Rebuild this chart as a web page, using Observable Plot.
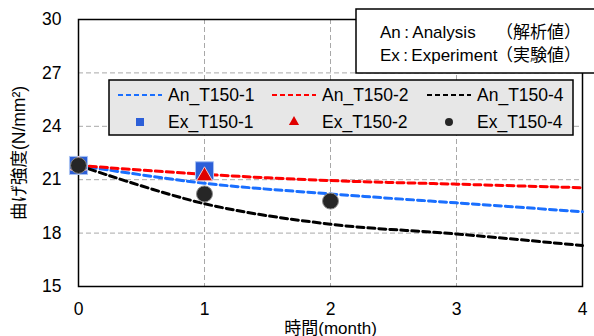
<!DOCTYPE html>
<html>
<head>
<meta charset="utf-8">
<script src="https://cdn.jsdelivr.net/npm/d3@7"></script>
<script src="https://cdn.jsdelivr.net/npm/@observablehq/plot@0.6"></script>
<style>
  html, body { margin: 0; padding: 0; background: #fff; }
  #wrap { position: relative; width: 594px; height: 336px; font-family: "Liberation Sans", Arial, "Noto Sans CJK JP", sans-serif; }
  #overlay { position: absolute; left: 0; top: 0; pointer-events: none; }
</style>
</head>
<body>
<div id="wrap"></div>
<script>
// ---- data ----
const months = [0, 1, 2, 3, 4];
const anT150_1 = [21.8, 20.8, 20.2, 19.7, 19.2];
const anT150_2 = [21.8, 21.3, 20.95, 20.75, 20.55];
const anT150_4 = [21.8, 19.65, 18.5, 17.95, 17.3];

const exMonths1 = [0, 1];
const exT150_1 = [21.8, 21.5];
const exMonths2 = [0, 1];
const exT150_2 = [21.8, 21.2];
const exMonths4 = [0, 1, 2];
const exT150_4 = [21.8, 20.2, 19.8];

const yTicks = [15, 18, 21, 24, 27, 30];
const xTicks = [0, 1, 2, 3, 4];

const anNames = ["An_T150-1", "An_T150-2", "An_T150-4"];
const exNames = ["Ex_T150-1", "Ex_T150-2", "Ex_T150-4"];
const colors = ["#1a6fff", "#ff0000", "#000000"];
const noteLines = [["An\u2009:\u2009Analysis", "（解析値）"], ["Ex\u2009:\u2009Experiment", "（実験値）"]];

// ---- tables ----
const anSeries = [anT150_1, anT150_2, anT150_4];
const anData = anSeries.map((vals, s) => months.map((m, i) => ({month: m, value: vals[i], series: anNames[s]})));
const ex1 = exMonths1.map((m, i) => ({month: m, value: exT150_1[i]}));
const ex2 = exMonths2.map((m, i) => ({month: m, value: exT150_2[i]}));
const ex4 = exMonths4.map((m, i) => ({month: m, value: exT150_4[i]}));

const W = 594, H = 336;
const fontFamily = '"Liberation Sans", Arial, "Noto Sans CJK JP", sans-serif';

const chart = Plot.plot({
  width: W,
  height: H,
  marginLeft: 78,
  marginRight: 12,
  marginTop: 19,
  marginBottom: 50,
  style: {fontFamily, fontSize: "17px", color: "#000", background: "#fff"},
  x: {domain: [0, 4]},
  y: {domain: [15, 30]},
  marks: [
    Plot.gridY(yTicks.filter(t => t > 15 && t < 30), {stroke: "#a8a8a8", strokeOpacity: 1, strokeDasharray: "5,3", strokeWidth: 1}),
    Plot.gridX(xTicks.filter(t => t > 0 && t < 4), {stroke: "#a8a8a8", strokeOpacity: 1, strokeDasharray: "5,3", strokeWidth: 1}),
    Plot.frame({stroke: "#000", strokeWidth: 1.5}),
    ...anData.map((d, s) => Plot.line(d, {x: "month", y: "value", stroke: colors[s], strokeWidth: 3, strokeDasharray: "7,4", curve: "catmull-rom"})),
    Plot.dot(ex1, {x: "month", y: "value", symbol: "square", r: 10.2, fill: "#2c5fd8", stroke: "#a9c2f2", strokeWidth: 1}),
    Plot.dot(ex2, {x: "month", y: "value", symbol: "triangle", r: 6, fill: "#e00000", stroke: "#f3c9c9", strokeWidth: 1}),
    Plot.dot(ex4, {x: "month", y: "value", symbol: "circle", r: 8, fill: "#262626", stroke: "#8c8c8c", strokeWidth: 1}),
    Plot.axisY({ticks: yTicks, tickFormat: d => String(d), tickSize: 0, tickPadding: 17, label: "曲げ強度(N/mm²)", labelArrow: "none", labelAnchor: "center", labelOffset: 66, fontSize: 17.5}),
    Plot.axisX({ticks: xTicks, tickFormat: d => String(d), tickSize: 0, tickPadding: 16, label: null, fontSize: 17.5}),
    Plot.axisX({ticks: [], tickSize: 0, label: "時間(month)", labelArrow: "none", labelAnchor: "center", labelOffset: 47, fontSize: 17})
  ]
});

const wrap = document.getElementById("wrap");
wrap.appendChild(chart);

// ---- legends (overlay) ----
const svg = d3.select(wrap).append("svg")
  .attr("id", "overlay").attr("width", W).attr("height", H)
  .style("font-family", fontFamily).style("font-size", "17px");

// Note box (top right)
const nb = {x: 356, y: 9, w: 240, h: 64};
svg.append("rect").attr("x", nb.x).attr("y", nb.y).attr("width", nb.w).attr("height", nb.h)
  .attr("fill", "#fff").attr("stroke", "#000").attr("stroke-width", 1.5);
noteLines.forEach((pair, i) => {
  const y = nb.y + 23 + i * 23;
  svg.append("text").attr("x", nb.x + 24).attr("y", y).attr("dy", "0.35em").text(pair[0]);
  svg.append("text").attr("x", 581).attr("y", y).attr("dy", "0.35em").attr("text-anchor", "end").text(pair[1]);
});

// Series legend box
const lb = {x: 109, y: 80, w: 464, h: 55};
svg.append("rect").attr("x", lb.x).attr("y", lb.y).attr("width", lb.w).attr("height", lb.h)
  .attr("fill", "#e7e7e7").attr("stroke", "#000").attr("stroke-width", 1.5);
const colX = [0, 154, 309];
anNames.forEach((name, s) => {
  const x0 = lb.x + 9 + colX[s], y = lb.y + 15;
  svg.append("line").attr("x1", x0).attr("x2", x0 + 44).attr("y1", y).attr("y2", y)
    .attr("stroke", colors[s]).attr("stroke-width", 2).attr("stroke-dasharray", "5,3");
  svg.append("text").attr("x", x0 + 50).attr("y", y).attr("dy", "0.35em").style("font-size", "17.5px").text(name);
});
const sym = [d3.symbolSquare, d3.symbolTriangle, d3.symbolCircle];
const symFill = ["#2c5fd8", "#e00000", "#262626"];
const symSize = [64, 45, 50];
exNames.forEach((name, s) => {
  const cx = lb.x + 31 + colX[s], y = lb.y + 42;
  svg.append("path").attr("d", d3.symbol(sym[s], symSize[s])()).attr("transform", `translate(${cx},${y})`)
    .attr("fill", symFill[s]);
  svg.append("text").attr("x", lb.x + 9 + colX[s] + 50).attr("y", y).attr("dy", "0.35em").style("font-size", "17.5px").text(name);
});
</script>
</body>
</html>
